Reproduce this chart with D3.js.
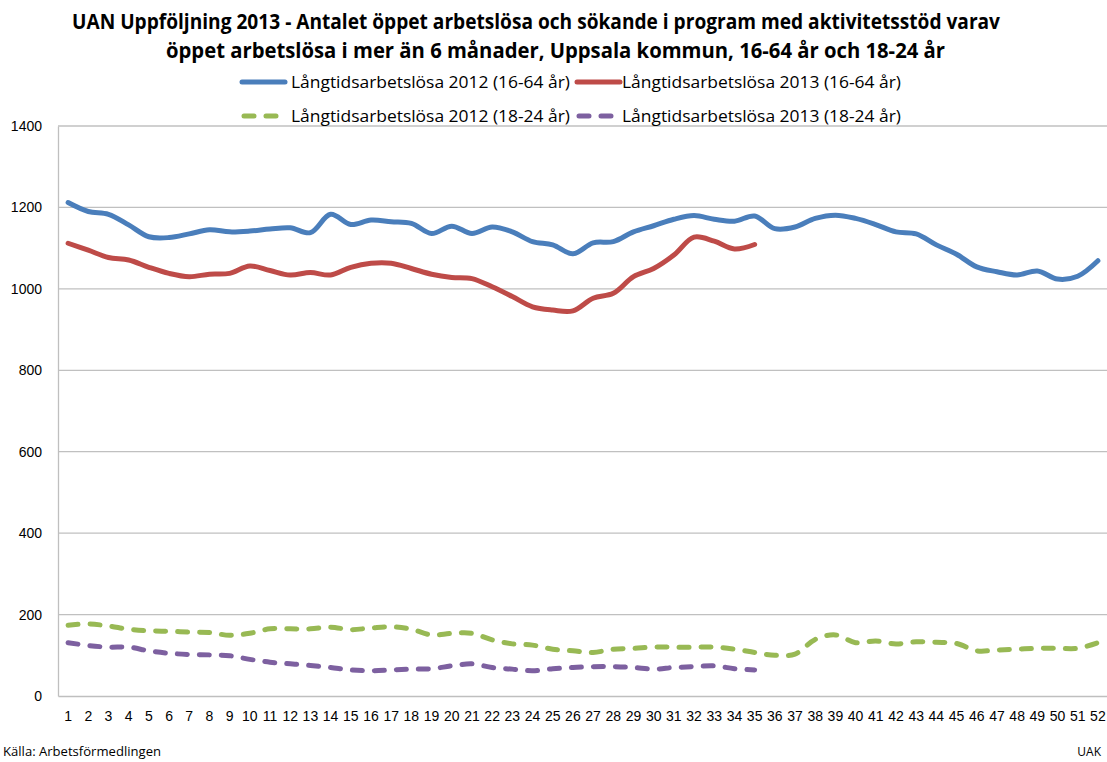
<!DOCTYPE html>
<html lang="sv">
<head>
  <meta charset="UTF-8" />
  <title>UAN Uppföljning 2013</title>
  <script src="https://cdnjs.cloudflare.com/ajax/libs/d3/7.8.2/d3.min.js"></script>
  <style>
    body { margin: 0; padding: 0; background: #fff; }
    svg { display: block; font-family: "Open Sans", "Liberation Sans", sans-serif; }
    .tick text { fill: #000; }
  </style>
</head>
<body>
<svg id="chart" width="1107" height="762"></svg>
<script>
// ---- data (weeks 1-52) ----
const weeks = d3.range(1, 53);
const yTicks = [0, 200, 400, 600, 800, 1000, 1200, 1400];

const long2012_1664 = [1212, 1190, 1183, 1157, 1128, 1126, 1135, 1145, 1140, 1142,
  1147, 1150, 1138, 1183, 1158, 1169, 1165, 1161, 1136, 1154,
  1136, 1152, 1140, 1116, 1108, 1086, 1113, 1116, 1140, 1155,
  1171, 1180, 1171, 1166, 1179, 1148, 1152, 1173, 1181, 1173,
  1158, 1140, 1135, 1108, 1085, 1054, 1042, 1034, 1044, 1024,
  1031, 1069];
const long2013_1664 = [1112, 1095, 1077, 1071, 1053, 1038, 1030, 1036, 1038, 1056,
  1045, 1034, 1040, 1034, 1053, 1063, 1063, 1050, 1036, 1028,
  1025, 1005, 981, 956, 948, 946, 977, 989, 1030, 1050,
  1083, 1127, 1117, 1098, 1109];
const long2012_1824 = [174, 177, 172, 164, 160, 159, 157, 156, 149, 154,
  165, 165, 165, 169, 163, 167, 170, 164, 150, 154,
  154, 138, 128, 125, 115, 111, 107, 115, 117, 120,
  120, 120, 120, 115, 107, 100, 103, 139, 150, 131,
  135, 128, 133, 132, 129, 111, 113, 115, 117, 117,
  117, 131];
const long2013_1824 = [131, 124, 120, 120, 111, 105, 102, 101, 99, 90,
  83, 79, 75, 70, 64, 62, 64, 66, 67, 74,
  79, 70, 66, 62, 67, 70, 72, 72, 70, 66,
  70, 72, 74, 67, 64];

const seriesNames = [
  "Långtidsarbetslösa 2012 (16-64 år)",
  "Långtidsarbetslösa 2013 (16-64 år)",
  "Långtidsarbetslösa 2012 (18-24 år)",
  "Långtidsarbetslösa 2013 (18-24 år)"
];

const series = [
  { name: seriesNames[0], values: long2012_1664, color: "#4a7ebb", dash: null },
  { name: seriesNames[1], values: long2013_1664, color: "#be4b48", dash: null },
  { name: seriesNames[2], values: long2012_1824, color: "#98b954", dash: "10,12" },
  { name: seriesNames[3], values: long2013_1824, color: "#7d60a0", dash: "10,12" }
];

// ---- layout ----
const svg = d3.select("#chart");
const plot = { left: 58, right: 1108, top: 126, bottom: 696 };

const x = d3.scaleBand().domain(weeks).range([plot.left, plot.right]);
const xc = d => x(d) + x.bandwidth() / 2;
const y = d3.scaleLinear().domain([0, 1400]).range([plot.bottom, plot.top]);

// title
const title = svg.append("g").attr("font-weight", "bold").attr("font-size", 21)
  .attr("font-family", "'Open Sans', 'Liberation Sans', sans-serif");
title.append("text").attr("x", 72).attr("y", 29)
  .attr("textLength", 928).attr("lengthAdjust", "spacingAndGlyphs")
  .text("UAN Uppföljning 2013 - Antalet öppet arbetslösa och sökande i program med aktivitetsstöd varav");
title.append("text").attr("x", 166).attr("y", 58)
  .attr("textLength", 779).attr("lengthAdjust", "spacingAndGlyphs")
  .text("öppet arbetslösa i mer än 6 månader, Uppsala kommun, 16-64 år och 18-24 år");

// gridlines
svg.append("g").selectAll("line").data(yTicks.filter(t => t > 0)).join("line")
  .attr("x1", plot.left).attr("x2", plot.right)
  .attr("y1", d => y(d)).attr("y2", d => y(d))
  .attr("stroke", "#c0c0c0").attr("stroke-width", 1.3);

// y axis
const yAxis = svg.append("g").attr("transform", `translate(${plot.left},0)`)
  .call(d3.axisLeft(y).tickValues(yTicks).tickSize(0).tickPadding(16).tickFormat(d3.format("d")));
yAxis.select(".domain").attr("stroke", "#bfbfbf").attr("stroke-width", 1.3);
yAxis.selectAll("text").attr("font-size", 14).attr("font-family", "'Liberation Sans Narrow', 'Liberation Sans', sans-serif");

// x axis
const xAxis = svg.append("g").attr("transform", `translate(0,${plot.bottom})`)
  .call(d3.axisBottom(x).tickSize(0).tickPadding(15));
xAxis.select(".domain").attr("stroke", "#bfbfbf").attr("stroke-width", 1.3);
xAxis.selectAll("text").attr("font-size", 14).attr("font-family", "'Liberation Sans Narrow', 'Liberation Sans', sans-serif");

// lines
const line = d3.line()
  .x((d, i) => xc(weeks[i]))
  .y(d => y(d))
  .curve(d3.curveCatmullRom.alpha(0.5));

svg.append("g").selectAll("path").data(series).join("path")
  .attr("d", s => line(s.values))
  .attr("fill", "none")
  .attr("stroke", s => s.color)
  .attr("stroke-width", 5)
  .attr("stroke-linecap", "round")
  .attr("stroke-linejoin", "round")
  .attr("stroke-dasharray", s => s.dash);

// legend
const legendPos = [[240, 82], [575, 82], [240, 116], [575, 116]];
const legend = svg.append("g").selectAll("g").data(series).join("g")
  .attr("transform", (s, i) => `translate(${legendPos[i][0]},${legendPos[i][1]})`);
legend.append("line")
  .attr("x1", s => s.dash ? 4 : 2).attr("x2", 45).attr("y1", 0).attr("y2", 0)
  .attr("stroke", s => s.color).attr("stroke-width", 5)
  .attr("stroke-linecap", "round")
  .attr("stroke-dasharray", s => s.dash ? "10,12" : null);
legend.append("text")
  .attr("x", (s, i) => i % 2 === 0 ? 51 : 47).attr("y", 6)
  .attr("font-size", 16)
  .attr("textLength", 279).attr("lengthAdjust", "spacingAndGlyphs")
  .text(s => s.name);

// footer
svg.append("text").attr("x", 3).attr("y", 756).attr("font-size", 12)
  .attr("textLength", 158).attr("lengthAdjust", "spacingAndGlyphs")
  .text("Källa: Arbetsförmedlingen");
svg.append("text").attr("x", 1101).attr("y", 756).attr("font-size", 12)
  .attr("text-anchor", "end")
  .text("UAK");
</script>
</body>
</html>
